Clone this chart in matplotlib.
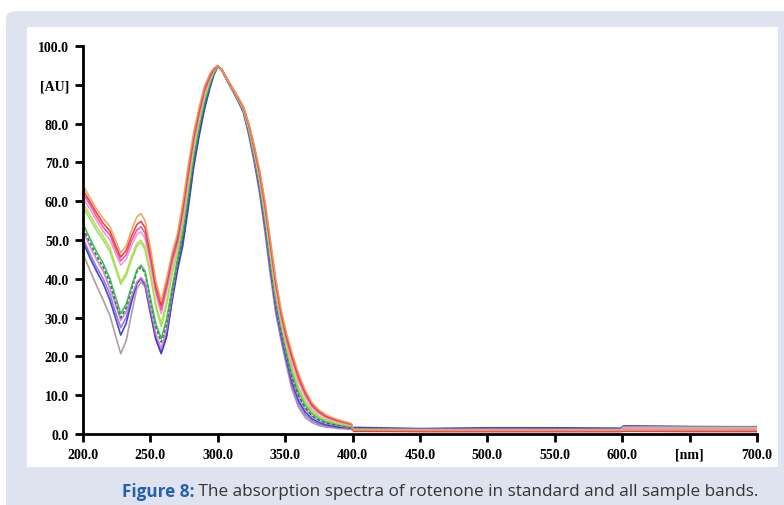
import numpy as np
import matplotlib
matplotlib.use("Agg")
import matplotlib.pyplot as plt
from matplotlib.patches import FancyBboxPatch, Rectangle

# wavelength knots [nm]
wavelength = [200, 205, 210, 215, 220, 224, 228, 232, 236, 240, 243, 246, 250, 254, 258,
              262, 266, 270, 274, 278, 282, 286, 290, 294, 297, 300,
              303, 307, 311, 315, 319, 323, 327, 331, 335, 339, 343, 347, 351, 355,
              360, 365, 370, 375, 380, 385, 390, 395, 399,
              401, 450, 500, 550, 599, 601, 650, 700]

# absorbance [AU], one list per band
orange = [64.1, 61.0, 58.0, 55.5, 53.5, 50.0, 46.7, 48.5, 52.5, 56.0, 56.8, 55.0, 48.0, 39.5, 34.2,
          40.0, 46.5, 51.5, 59.5, 69.0, 77.5, 84.0, 89.5, 92.8, 94.3, 94.9,
          93.9, 91.5, 89.2, 86.8, 84.4, 80.0, 74.5, 68.0, 60.0, 50.0, 40.0, 32.0, 26.0, 21.0,
          15.5, 11.2, 8.0, 6.2, 5.0, 4.2, 3.6, 3.1, 2.7,
          1.0, 0.9, 0.9, 0.9, 0.9, 1.0, 1.0, 1.0]
red = [62.8, 60.0, 57.0, 54.3, 52.3, 48.8, 45.6, 47.3, 51.0, 54.0, 54.8, 53.2, 46.5, 38.3, 33.2,
       39.0, 45.5, 50.5, 58.4, 67.9, 76.6, 83.3, 88.9, 92.4, 94.1, 94.9,
       93.9, 91.5, 89.1, 86.7, 84.3, 79.8, 74.1, 67.5, 59.4, 49.3, 39.3, 31.4, 25.3, 20.2,
       14.8, 10.6, 7.6, 5.9, 4.7, 4.0, 3.4, 3.0, 2.6,
       0.8, 0.7, 0.7, 0.7, 0.7, 0.8, 0.8, 0.8]
hotpink = [62.0, 59.2, 56.0, 53.3, 51.3, 47.8, 44.6, 46.2, 49.8, 52.6, 53.4, 51.8, 45.2, 37.2, 32.0,
           37.8, 44.5, 49.5, 57.3, 66.8, 75.7, 82.5, 88.3, 92.0, 93.9, 94.9,
           93.9, 91.4, 89.1, 86.7, 84.2, 79.6, 73.8, 67.1, 58.8, 48.7, 38.7, 30.8, 24.7, 19.6,
           14.2, 10.2, 7.2, 5.6, 4.5, 3.8, 3.3, 2.8, 2.5,
           0.7, 0.6, 0.6, 0.6, 0.6, 0.7, 0.6, 0.6]
orchid = [60.7, 58.0, 55.0, 52.2, 50.0, 46.7, 43.5, 45.0, 48.6, 51.4, 52.1, 50.5, 44.0, 36.2, 31.0,
          36.8, 43.5, 48.6, 56.2, 65.6, 74.8, 81.8, 87.7, 91.7, 93.8, 94.9,
          93.9, 91.4, 89.0, 86.6, 84.0, 79.3, 73.4, 66.5, 58.0, 47.8, 37.8, 30.0, 23.9, 18.6,
          13.3, 9.5, 6.7, 5.2, 4.2, 3.6, 3.1, 2.7, 2.3,
          1.0, 1.0, 1.0, 1.0, 1.0, 1.4, 1.4, 1.4]
yellowgreen = [59.5, 56.5, 53.5, 51.0, 48.0, 43.5, 39.2, 41.5, 45.8, 49.2, 49.9, 48.3, 41.5, 33.5, 28.5,
               34.0, 41.5, 47.2, 54.6, 64.0, 73.5, 80.6, 86.8, 91.1, 93.5, 94.9,
               93.9, 91.3, 88.9, 86.4, 83.8, 78.8, 72.7, 65.6, 56.8, 46.4, 36.4, 28.8, 22.6, 17.2,
               12.0, 8.4, 6.0, 4.6, 3.7, 3.2, 2.7, 2.4, 2.1,
               1.0, 0.9, 0.9, 0.9, 0.9, 1.3, 1.3, 1.3]
lightgreen = [58.5, 55.5, 52.5, 50.0, 47.0, 42.8, 38.6, 40.8, 45.0, 48.5, 49.3, 47.6, 40.8, 32.8, 27.7,
              33.2, 41.0, 46.8, 54.0, 63.5, 73.0, 80.3, 86.5, 90.9, 93.4, 94.9,
              93.9, 91.3, 88.8, 86.4, 83.7, 78.7, 72.5, 65.3, 56.4, 46.0, 36.0, 28.4, 22.2, 16.7,
              11.6, 8.1, 5.7, 4.4, 3.6, 3.0, 2.6, 2.3, 2.0,
              1.2, 1.1, 1.1, 1.1, 1.1, 1.6, 1.6, 1.6]
green = [54.2, 50.5, 47.0, 44.0, 40.0, 35.5, 31.0, 33.5, 38.0, 42.3, 43.5, 42.0, 35.0, 28.5, 24.6,
         29.5, 37.5, 44.8, 51.8, 61.3, 71.2, 78.7, 85.3, 90.1, 93.0, 94.8,
         93.8, 91.2, 88.8, 86.3, 83.5, 78.4, 72.0, 64.7, 55.6, 45.1, 35.1, 27.6, 21.3, 15.8,
         10.7, 7.4, 5.2, 4.0, 3.2, 2.8, 2.4, 2.1, 1.9,
         1.2, 1.0, 1.1, 1.0, 1.0, 1.4, 1.5, 1.3]
darkgreen = [53.0, 49.5, 46.0, 43.0, 39.0, 34.3, 30.0, 32.5, 37.2, 41.8, 43.0, 41.5, 34.3, 27.6, 23.7,
             28.3, 36.5, 43.9, 50.7, 60.2, 70.3, 78.0, 84.7, 89.8, 92.9, 94.8,
             93.8, 91.2, 88.7, 86.2, 83.4, 78.1, 71.6, 64.1, 54.8, 44.2, 34.2, 26.8, 20.5, 14.8,
             9.8, 6.7, 4.7, 3.6, 2.9, 2.5, 2.2, 1.9, 1.7,
             1.3, 1.1, 1.1, 1.2, 1.1, 1.2, 1.0, 1.0]
violet = [52.2, 48.5, 45.0, 42.0, 37.5, 33.5, 29.3, 31.5, 35.5, 39.2, 40.3, 39.0, 32.5, 25.8, 22.0,
          27.0, 35.5, 44.5, 52.4, 61.9, 71.7, 79.1, 85.6, 90.3, 93.1, 94.8,
          93.8, 91.2, 88.6, 86.1, 83.3, 77.9, 71.4, 63.8, 54.4, 43.7, 33.7, 26.4, 20.1, 14.4,
          9.4, 6.3, 4.4, 3.4, 2.8, 2.4, 2.1, 1.8, 1.6,
          1.3, 1.2, 1.2, 1.2, 1.2, 1.9, 1.8, 1.8]
blue = [49.5, 45.5, 42.0, 38.8, 34.5, 30.0, 25.5, 28.5, 34.0, 38.8, 40.1, 38.6, 31.5, 24.5, 20.7,
        25.0, 34.0, 42.0, 48.5, 58.0, 68.5, 76.5, 83.5, 89.0, 92.5, 94.8,
        93.8, 91.1, 88.6, 86.0, 83.1, 77.6, 70.9, 63.2, 53.6, 42.8, 32.8, 25.6, 19.2, 13.4,
        8.5, 5.6, 3.9, 3.0, 2.4, 2.1, 1.8, 1.7, 1.5,
        1.7, 1.4, 1.6, 1.6, 1.5, 2.1, 1.9, 1.8]
purple = [50.4, 46.5, 43.0, 40.0, 36.0, 31.5, 27.4, 30.0, 35.0, 39.0, 40.0, 38.5, 31.5, 24.8, 21.0,
          25.5, 34.5, 42.9, 49.6, 59.1, 69.4, 77.2, 84.1, 89.4, 92.7, 94.8,
          93.8, 91.0, 88.5, 85.9, 83.0, 77.3, 70.5, 62.6, 52.8, 41.9, 31.9, 24.8, 18.4, 12.5,
          7.7, 4.9, 3.4, 2.6, 2.1, 1.9, 1.6, 1.5, 1.4,
          1.5, 1.3, 1.4, 1.4, 1.3, 2.0, 1.9, 1.9]
gray = [46.5, 42.3, 38.3, 34.5, 30.5, 25.5, 20.7, 24.0, 31.0, 37.5, 39.2, 38.0, 31.0, 24.5, 21.0,
        25.5, 34.8, 43.4, 50.1, 59.7, 69.9, 77.6, 84.4, 89.6, 92.8, 94.8,
        93.8, 91.0, 88.4, 85.8, 82.8, 77.0, 70.0, 62.0, 52.0, 41.0, 31.0, 24.0, 17.5, 11.5,
        6.8, 4.2, 2.9, 2.2, 1.8, 1.6, 1.4, 1.3, 1.2,
        0.7, 0.8, 0.8, 0.8, 0.8, 1.0, 1.1, 1.1]

y_ticks = [0, 10, 20, 30, 40, 50, 60, 70, 80, 90, 100]
y_labels = ["0.0", "10.0", "20.0", "30.0", "40.0", "50.0", "60.0", "70.0", "80.0", "[AU]", "100.0"]
x_ticks = [200, 250, 300, 350, 400, 450, 500, 550, 600, 650, 700]
x_labels = ["200.0", "250.0", "300.0", "350.0", "400.0", "450.0", "500.0", "550.0", "600.0", "[nm]", "700.0"]

caption_bold = "Figure 8:"
caption_rest = " The absorption spectra of rotenone in standard and all sample bands."

# drawing order: bottom first
bands = [
    (gray, "#a8929a", "-"),
    (purple, "#8a70e8", "-"),
    (blue, "#3535c8", "-"),
    (violet, "#d67ad8", "-"),
    (darkgreen, "#1e7048", (0, (2, 1.2))),
    (green, "#35b54a", "-"),
    (lightgreen, "#86e35a", "-"),
    (yellowgreen, "#bcd84a", "-"),
    (orchid, "#f28ee0", "-"),
    (hotpink, "#ec4a9c", "-"),
    (red, "#e8322f", "-"),
    (orange, "#e8a05a", "-"),
]

W, H = 784, 506
fig = plt.figure(figsize=(W / 100, H / 100), dpi=100)
fig.patch.set_facecolor("white")

# lavender frame and white plot panel
fig.patches.append(FancyBboxPatch((6 / W, -20 / H), (W + 20) / W, (H + 20 - 12) / H,
                                  boxstyle="round,pad=0,rounding_size=0.015",
                                  transform=fig.transFigure, facecolor="#dfe3ef",
                                  edgecolor="none", zorder=0))
fig.patches.append(Rectangle((27 / W, (H - 468) / H), (778 - 27) / W, (468 - 28) / H,
                             transform=fig.transFigure, facecolor="white",
                             edgecolor="none", zorder=0.5))

ax = fig.add_axes([83 / W, (H - 435) / H, (757 - 83) / W, (435 - 47) / H])
ax.set_facecolor("none")
ax.set_zorder(2)

for vals, col, ls in bands:
    ax.plot(wavelength, vals, color=col, lw=1.2, ls=ls, alpha=0.9, solid_joinstyle="round")

ax.set_xlim(200, 700)
ax.set_ylim(0, 100)
ax.spines["top"].set_visible(False)
ax.spines["right"].set_visible(False)
for s in ("left", "bottom"):
    ax.spines[s].set_linewidth(2.0)
ax.set_yticks(y_ticks)
ax.set_yticklabels(y_labels)
ax.set_xticks(x_ticks)
ax.set_xticklabels(x_labels)
ax.tick_params(axis="both", length=6, width=2.0, pad=4)
for lab in ax.get_xticklabels() + ax.get_yticklabels():
    lab.set_fontfamily("Liberation Serif")
    lab.set_fontweight("bold")
    lab.set_fontsize(10)

# caption, blue bold prefix followed by plain text
t1 = fig.text(122 / W, (H - 492) / H, caption_bold, fontsize=12.3, fontweight="bold",
              color="#2461ac", family="Open Sans", va="center", ha="left", zorder=3)
fig.canvas.draw()
bb = t1.get_window_extent()
fig.text(bb.x1 / W, (H - 492) / H, caption_rest, fontsize=12.3, color="#333333",
         family="Open Sans", va="center", ha="left", zorder=3)

fig.savefig("out.png", dpi=100)
